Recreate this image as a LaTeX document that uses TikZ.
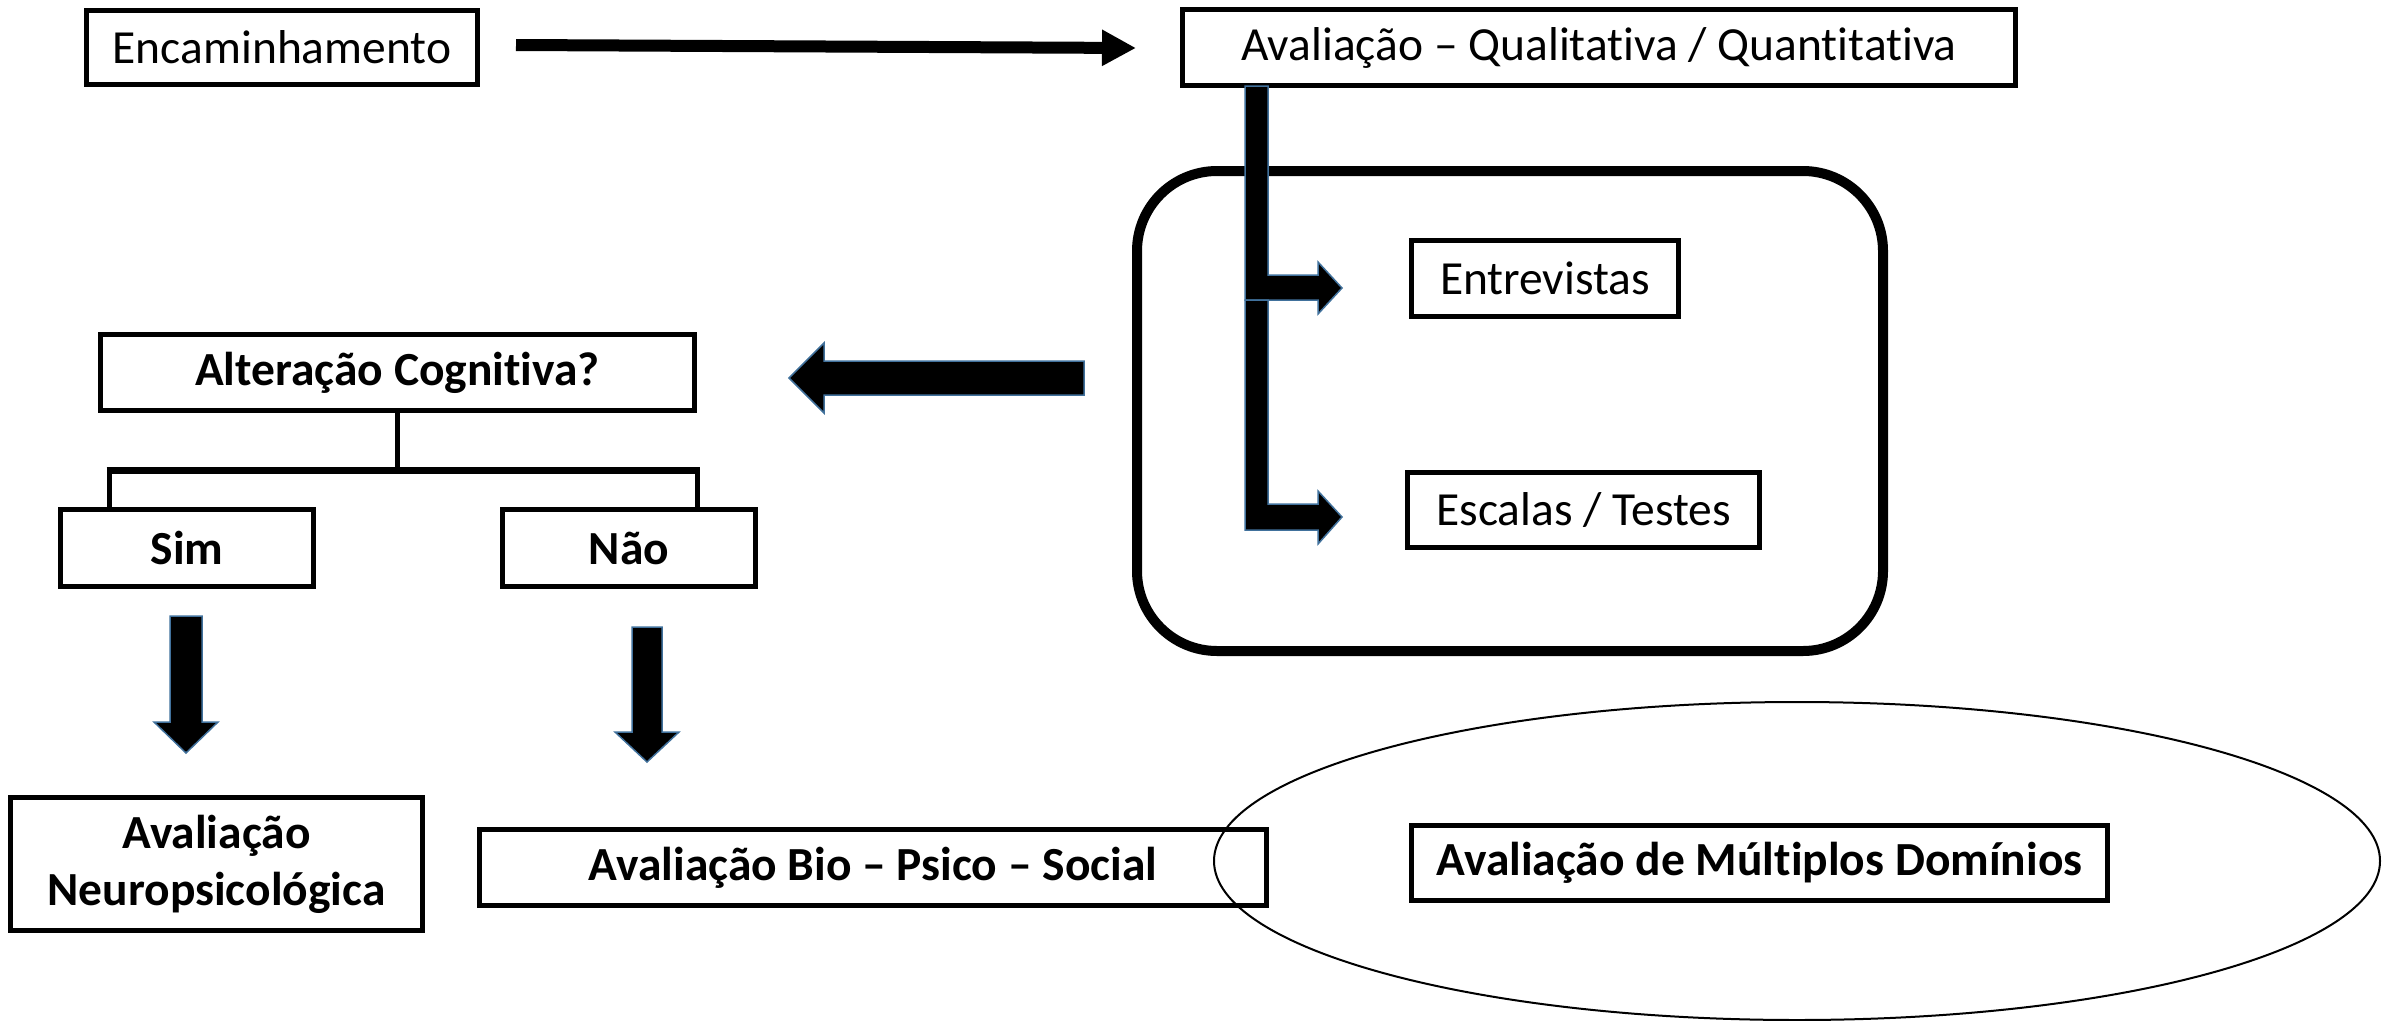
\documentclass[tikz,border=0pt]{standalone}
\usepackage{fontspec}
\setmainfont{Carlito}[Ligatures=NoCommon]
\usetikzlibrary{arrows.meta,calc}
\definecolor{arrowblue}{RGB}{65,113,156}
\begin{document}
\begin{tikzpicture}[x=1pt,y=-1pt,
  box/.style={draw, line width=5pt, inner sep=0pt, align=center, font=\fontsize{47.5}{57}\selectfont},
  boldbox/.style={box, font=\fontsize{47.5}{57}\selectfont\bfseries},
  blockarrow/.style={fill=black, draw=arrowblue, line width=1.5pt, line join=miter},
  treeline/.style={line width=5pt},
]
\useasboundingbox (0,0) rectangle (2390,1020);

% group frame and ellipse
\node[draw, line width=10pt, rounded corners=80pt, minimum width=746pt, minimum height=480pt, inner sep=0pt] (grp) at (1510,411) {};
\coordinate (ec) at (1797,861);
\draw[line width=2pt] (ec) ellipse [x radius=583, y radius=159];

% boxes
\node[box, minimum width=391pt, minimum height=74pt] (enc) at (282,47.5) {Encaminhamento};
\node[box, minimum width=833pt, minimum height=76pt] (aval) at (1599,47.5) {Avaliação – Qualitativa / Quantitativa};
\node[box, minimum width=267pt, minimum height=76pt] (entr) at (1545,278.5) {Entrevistas};
\node[box, minimum width=352pt, minimum height=75pt] (esc) at (1583.5,510) {Escalas / Testes};
\node[boldbox, minimum width=594pt, minimum height=76pt] (alt) at (397.5,372.5) {Alteração Cognitiva?};
\node[boldbox, minimum width=253pt, minimum height=77pt] (sim) at (187,548) {Sim};
\node[boldbox, minimum width=253pt, minimum height=77pt] (nao) at (629,548) {Não};
\node[boldbox, minimum width=412pt, minimum height=133pt] (neuro) at (216.5,864) {Avaliação\\Neuropsicológica};
\node[boldbox, minimum width=787pt, minimum height=76pt] (bio) at (873,867.5) {Avaliação Bio – Psico – Social};
\node[boldbox, minimum width=696pt, minimum height=75pt] (mult) at (1759.5,863) {Avaliação de Múltiplos Domínios};

% top arrow
\coordinate (ta) at (516,45);
\coordinate (tb) at (1136,48);
\draw[line width=12pt, -{Triangle[length=34pt,width=34pt]}] (ta) -- (tb);

% elbow arrows
\coordinate (ea) at (1245,86);
\draw[blockarrow] (ea) -- ++(23,0) -- ++(0,189) -- ++(50,0) -- ++(0,-13) -- ++(24,26) -- ++(-24,26) -- ++(0,-14) -- ++(-73,0) -- cycle;
\coordinate (eb) at (1245,300);
\draw[blockarrow] (eb) -- ++(23,0) -- ++(0,204) -- ++(50,0) -- ++(0,-13) -- ++(24,26) -- ++(-24,27) -- ++(0,-14) -- ++(-73,0) -- cycle;

% big left arrow
\coordinate (la) at (1084,378);
\draw[blockarrow] ($(la)+(0,-17)$) -- ++(-260,0) -- ++(0,-18) -- ++(-35,35) -- ++(35,35) -- ++(0,-18) -- ++(260,0) -- cycle;

% down arrows
\coordinate (sa) at (186,616);
\draw[blockarrow] ($(sa)+(-16,0)$) -- ++(32,0) -- ++(0,106) -- ++(16,0) -- ++(-32,31) -- ++(-32,-31) -- ++(16,0) -- cycle;
\coordinate (na) at (647,627);
\draw[blockarrow] ($(na)+(-15,0)$) -- ++(30,0) -- ++(0,105) -- ++(17,0) -- ++(-32,30) -- ++(-32,-30) -- ++(17,0) -- cycle;

% tree
\coordinate (tl) at (109,470);
\coordinate (tr) at (697,470);
\draw[treeline] (alt.south) -- (alt.south |- tl);
\draw[line width=7pt] ([xshift=-2.5pt]tl) -- ([xshift=2.5pt]tr);
\draw[treeline] (tl) -- (tl |- sim.north);
\draw[treeline] (tr) -- (tr |- nao.north);
\end{tikzpicture}
\end{document}
